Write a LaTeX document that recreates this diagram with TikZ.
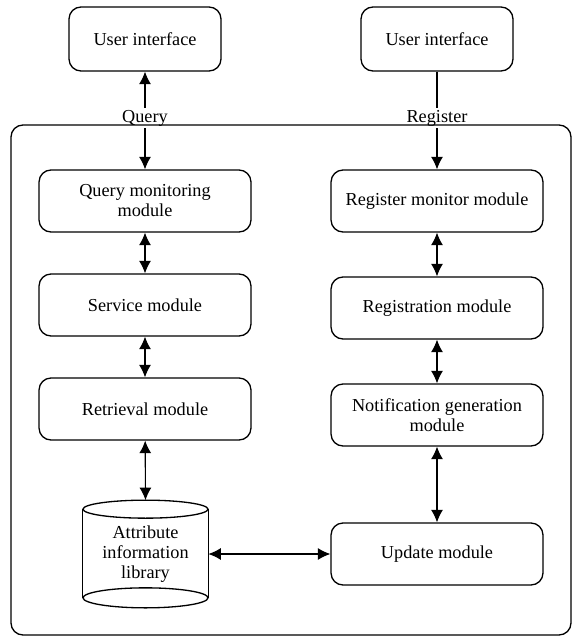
\documentclass[tikz,border=0pt]{standalone}
\usepackage{fontspec}
\setmainfont{Liberation Serif}
\usetikzlibrary{arrows.meta}

\begin{document}
\begin{tikzpicture}[
	x=0.02cm, y=-0.02cm,
	every node/.style={font=\fontsize{10.4pt}{11.4pt}\selectfont, align=center},
	module/.style={draw, line width=0.75pt, rounded corners=0.24cm, minimum width=4.24cm, minimum height=1.24cm, inner sep=2pt},
	ui/.style={module, minimum width=3.04cm, minimum height=1.28cm},
	tag/.style={inner sep=1pt},
	both/.style={line width=0.65pt, {Latex[length=0.25cm,width=0.24cm]}-{Latex[length=0.25cm,width=0.24cm]}},
	down/.style={line width=0.65pt, -{Latex[length=0.25cm,width=0.24cm]}}
	]

	\useasboundingbox (0,0) rectangle (573,636);

	% outer frame
	\draw[line width=0.75pt, rounded corners=0.24cm] (11,125) rectangle (571,635);

	% query side
	\node[ui] (uiq) at (145,39) {User interface};
	\node[tag] (q) at (145,118) {Query};
	\node[module] (qm) at (145,201) {Query monitoring\\module};
	\node[module] (sm) at (145,305) {Service module};
	\node[module] (rm) at (145,409) {Retrieval module};
	\node[minimum width=2.5cm, minimum height=2.14cm, inner sep=0pt] (lib) at (145.5,554) {Attribute\\information\\library};

	% register side
	\node[ui] (uir) at (437,39) {User interface};
	\node[tag] (r) at (437,118) {Register};
	\node[module] (rgm) at (437,201) {Register monitor module};
	\node[module] (rg) at (437,308) {Registration module};
	\node[module] (ng) at (437,415) {Notification generation\\module};
	\node[module] (up) at (437,554) {Update module};

	% library cylinder
	\draw[line width=0.75pt] ([yshift=-0.18cm]lib.north) ellipse [x radius=1.25cm, y radius=0.18cm];
	\draw[line width=0.75pt] ([yshift=0.2cm]lib.south) ellipse [x radius=1.25cm, y radius=0.2cm];
	\draw[line width=0.75pt] ([yshift=-0.18cm]lib.north west) -- ([yshift=0.2cm]lib.south west);
	\draw[line width=0.75pt] ([yshift=-0.18cm]lib.north east) -- ([yshift=0.2cm]lib.south east);

	% connectors
	\draw[down] (q.north) -- (uiq.south);
	\draw[down] (q.south) -- (qm.north);
	\draw[both] (qm) -- (sm);
	\draw[both] (sm) -- (rm);
	\draw[both] (rm) -- (lib.north);

	\draw[line width=0.65pt] (uir.south) -- (r.north);
	\draw[down] (r.south) -- (rgm.north);
	\draw[both] (rgm) -- (rg);
	\draw[both] (rg) -- (ng);
	\draw[both] (ng) -- (up);
	\draw[both] (lib.east) -- (up.west);

\end{tikzpicture}
\end{document}
